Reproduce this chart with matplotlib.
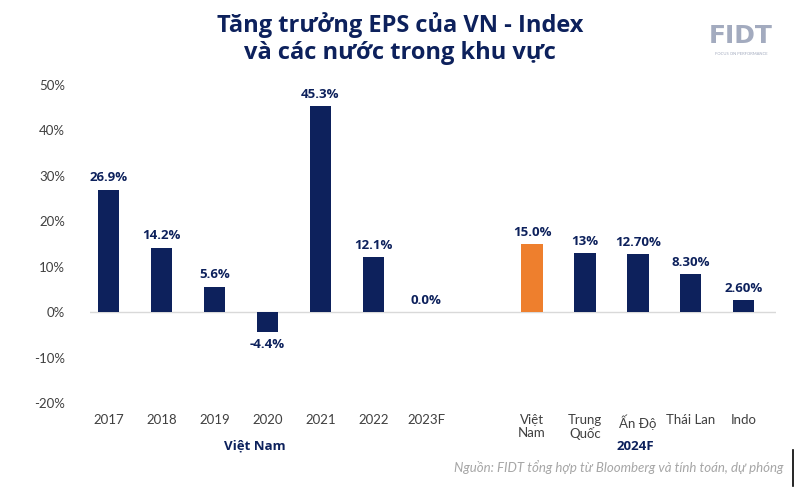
import numpy as np
import matplotlib.pyplot as plt

plt.rcParams['font.family'] = ['Lato', 'DejaVu Sans']

# du lieu
labels = ['2017', '2018', '2019', '2020', '2021', '2022', '2023F',
          'Việt\nNam', 'Trung\nQuốc', 'Ấn Độ', 'Thái Lan', 'Indo']
values = [26.9, 14.2, 5.6, -4.4, 45.3, 12.1, 0.0,
          15.0, 13.0, 12.7, 8.3, 2.6]
value_text = ['26.9%', '14.2%', '5.6%', '-4.4%', '45.3%', '12.1%', '0.0%',
              '15.0%', '13%', '12.70%', '8.30%', '2.60%']
positions = [0, 1, 2, 3, 4, 5, 6, 8, 9, 10, 11, 12]

navy = '#0d215c'
orange = '#ee7f2d'
colors = [navy] * 7 + [orange] + [navy] * 4
title_font = ['Open Sans', 'DejaVu Sans']

fig = plt.figure(figsize=(8, 4.9), dpi=100)
ax = fig.add_axes([0.1125, 0.1776, 0.857, 0.649])

ax.bar(positions, values, width=0.4, color=colors, zorder=2)
ax.axhline(0, color='#d9d9d9', lw=1, zorder=1)

for x, v, t in zip(positions, values, value_text):
    if v < 0:
        ax.text(x, v - 1.2, t, ha='center', va='top', fontsize=9.5,
                fontweight='bold', color=navy, family=title_font)
    else:
        ax.text(x, v + 1.2, t, ha='center', va='bottom', fontsize=9.5,
                fontweight='bold', color=navy, family=title_font)

ax.set_ylim(-20, 50)
ax.set_xlim(-0.35, 12.6)
ax.set_yticks(np.arange(-20, 51, 10))
ax.set_yticklabels([f'{v}%' for v in range(-20, 51, 10)], fontsize=9.5, color='#404040')
ax.set_xticks(positions)
ax.set_xticklabels(labels, fontsize=9.5, color='#404040', va='top', linespacing=1.1)
ax.tick_params(length=0, pad=8)
ax.tick_params(axis='y', pad=18)
for s in ax.spines.values():
    s.set_visible(False)

# nhan nhom
fig.text(255 / 800, 1 - 446 / 490, 'Việt Nam', ha='center', va='center',
         fontsize=9.5, fontweight='bold', color=navy, family=title_font)
fig.text(635 / 800, 1 - 446 / 490, '2024F', ha='center', va='center',
         fontsize=9.5, fontweight='bold', color=navy, family=title_font)

# tieu de
fig.text(0.5, 1 - 25 / 490, 'Tăng trưởng EPS của VN - Index', ha='center', va='center',
         fontsize=17, fontweight='bold', color=navy, family=title_font)
fig.text(0.5, 1 - 53 / 490, 'và các nước trong khu vực', ha='center', va='center',
         fontsize=17, fontweight='bold', color=navy, family=title_font)

# logo
fig.text(741 / 800, 1 - 36 / 490, 'FIDT', ha='center', va='center',
         fontsize=18, fontweight='heavy', color='#a3abbf', family=['DejaVu Sans'])
fig.text(741 / 800, 1 - 54 / 490, 'FOCUS ON PERFORMANCE', ha='center', va='center',
         fontsize=3, color='#a3abbf')

# nguon
fig.text(783 / 800, 1 - 467 / 490, 'Nguồn: FIDT tổng hợp từ Bloomberg và tính toán, dự phóng',
         ha='right', va='center', fontsize=9.5, style='italic', color='#a6a6a6')
fig.add_artist(plt.Line2D([793 / 800, 793 / 800], [1 - 450 / 490, 1 - 486 / 490],
                          color='black', lw=1.2))

fig.savefig('out.png', dpi=100)
